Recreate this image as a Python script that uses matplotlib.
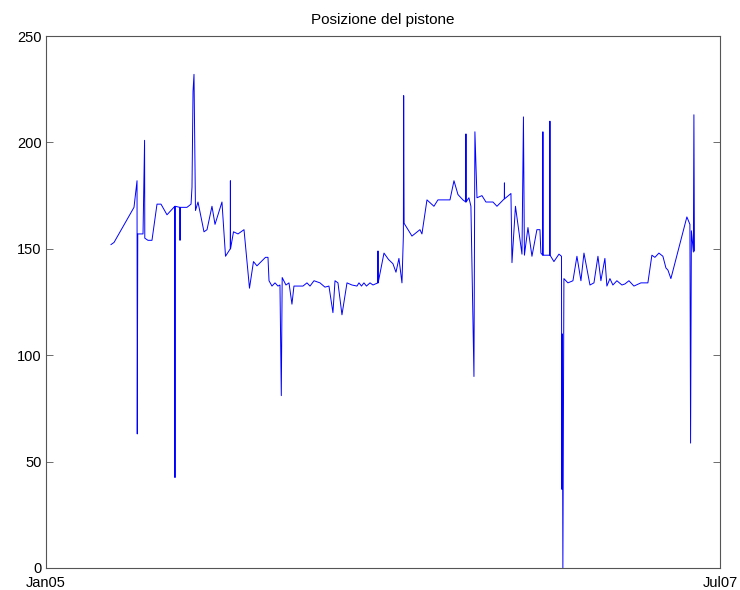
import datetime as dt
import matplotlib
matplotlib.use('Agg')
import matplotlib.pyplot as plt
import matplotlib.dates as mdates

# days elapsed since 1 Jan 2005 for each reading
days = [87.8, 91.9, 118.9, 123.0, 123.3, 124.0, 131.1, 133.2, 133.5, 137.8,
        143.2, 150.0, 155.4, 163.5, 174.1, 174.3, 174.5, 180.9, 181.1, 181.3,
        190.5, 196.0, 197.3, 198.7, 200.0, 202.0, 205.4, 213.5, 217.6, 224.3,
        228.4, 237.8, 242.6, 249.0, 249.2, 249.4, 253.4, 259.5, 267.6, 275.0,
        280.4, 285.1, 296.6, 300.0, 301.4, 305.4, 309.5, 313.5, 316.2, 318.0,
        319.2, 324.3, 328.4, 332.4, 335.1, 347.3, 352.7, 356.8, 362.2, 370.3,
        377.0, 382.4, 387.8, 390.6, 394.6, 400.0, 406.8, 413.5, 420.3, 423.0,
        426.4, 429.7, 433.1, 437.9, 441.9, 448.5, 448.7, 448.9, 456.8, 462.9,
        468.9, 473.0, 477.0, 481.1, 483.0, 483.2, 483.4, 484.0, 494.6, 505.4,
        508.1, 514.9, 524.3, 529.7, 546.0, 551.4, 556.8, 563.5, 567.4, 567.6,
        567.8, 571.6, 574.3, 578.4, 579.7, 582.5, 589.2, 594.6, 604.1, 609.5,
        619.4, 619.6, 619.8, 628.4, 629.8, 634.5, 643.3, 645.3, 646.6, 651.4,
        656.8, 663.5, 667.6, 668.9, 671.4, 671.6, 671.8, 680.9, 681.1, 681.3,
        686.5, 693.3, 696.7, 697.2, 697.8, 698.6, 700.0, 705.4, 712.2, 717.6,
        723.0, 727.1, 735.2, 740.6, 746.0, 750.0, 755.4, 758.1, 762.2, 766.2,
        771.6, 778.4, 782.5, 787.9, 794.6, 804.1, 813.5, 818.9, 823.0, 828.4,
        833.8, 837.9, 840.6, 844.6, 866.2, 870.3, 871.2, 872.3, 875.0, 875.7,
        876.4]

posizione = [152, 153, 169.5, 182, 63, 157, 157, 201, 155, 154,
             154, 171, 171, 166, 170, 42.5, 170, 169.5, 154, 169.5,
             169.5, 171, 179, 224, 232, 168, 172, 158, 159, 170,
             161.5, 172, 146.5, 150, 182, 150, 158, 157, 159, 131.5,
             144, 142, 146, 146, 135, 132.5, 134, 132.5, 133, 81,
             136.5, 133, 134, 124, 132.5, 132.5, 134, 132.5, 135, 134,
             132, 132.5, 120, 135, 134, 119, 134, 133, 132.5, 134,
             132.5, 134, 132.5, 134, 133, 134, 149, 134, 148, 145,
             143, 139, 145.5, 134, 156, 200, 222, 162, 156, 159,
             157, 173, 170, 173, 173, 182, 175.5, 173, 172, 204,
             172, 174, 170, 90, 205, 174, 175, 172, 172, 170,
             173.5, 181, 173.5, 176, 143.5, 170, 147.5, 212, 147, 160,
             146.5, 159, 159, 148, 147, 205, 147, 147, 210, 147,
             144, 147.5, 146.5, 37, 110, 0, 136, 134, 135, 146.5,
             135, 148, 133, 134, 146.5, 135, 145.5, 132.5, 136, 133,
             135, 133, 133.5, 135, 132.5, 134, 134, 147, 146, 148,
             146.5, 141, 140, 136, 165, 161.5, 58.7, 158.5, 148.5, 213,
             149]

start = dt.datetime(2005, 1, 1)
date_vals = [start + dt.timedelta(days=d) for d in days]

plt.rcParams['font.family'] = ['Liberation Sans', 'DejaVu Sans']

fig = plt.figure(figsize=(7.4, 5.9), dpi=100)
ax = fig.add_axes([0.0622, 0.0373, 0.9108, 0.9016])
ax.plot(date_vals, posizione, color='#0000ff', linewidth=0.7)

ax.set_xlim(dt.datetime(2005, 1, 1), dt.datetime(2007, 7, 1))
ax.set_ylim(0, 250)
ax.set_xticks([dt.datetime(2005, 1, 1), dt.datetime(2007, 7, 1)])
ax.xaxis.set_major_formatter(mdates.DateFormatter('%b%y'))
ax.set_yticks([0, 50, 100, 150, 200, 250])
ax.tick_params(direction='in', length=5, width=0.6, color='#555555',
               labelsize=10.5, top=True, right=True)
ax.tick_params(axis='x', pad=6)
ax.tick_params(axis='y', pad=3)
for sp in ax.spines.values():
    sp.set_color('#555555')
    sp.set_linewidth(0.8)

ax.set_title('Posizione del pistone', fontsize=11, pad=9)

fig.savefig('out.png', dpi=100)
